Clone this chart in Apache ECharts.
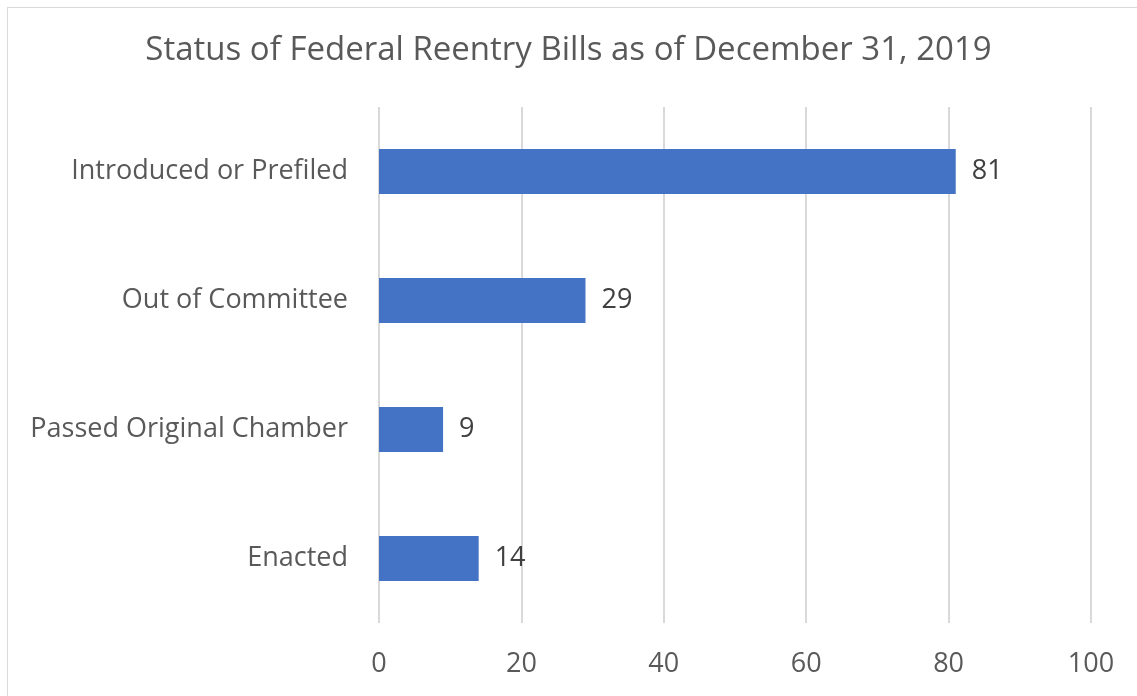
<!DOCTYPE html>
<html>
<head>
<meta charset="utf-8">
<script src="https://cdn.jsdelivr.net/npm/echarts@6/dist/echarts.min.js"></script>
<style>
  html, body { margin: 0; padding: 0; background: #fff; }
  #chart { width: 1137px; height: 696px; }
  .frame { position: absolute; left: 7px; top: 7px; width: 1140px; height: 700px; border: 1px solid #d9d9d9; pointer-events: none; }
</style>
</head>
<body>
<div id="chart"></div>
<div class="frame"></div>
<script>
const categories = ['Introduced or Prefiled', 'Out of Committee', 'Passed Original Chamber', 'Enacted']
const billCounts = [81, 29, 9, 14]
const xTicks = [0, 20, 40, 60, 80, 100]

const FONT = '"Open Sans", sans-serif'

const chart = echarts.init(document.getElementById('chart'))
chart.setOption({
  animation: false,
  title: {
    text: 'Status of Federal Reentry Bills as of December 31, 2019',
    left: 'center', top: 29,
    textStyle: { fontFamily: FONT, fontSize: 33, fontWeight: 'normal', color: '#595959' },
  },
  grid: { left: 379, right: 46, top: 107, bottom: 73, containLabel: false },
  xAxis: {
    type: 'value', min: xTicks[0], max: xTicks[xTicks.length - 1], interval: 20,
    axisLine: { show: false }, axisTick: { show: false },
    splitLine: { lineStyle: { color: '#d9d9d9', width: 2 } },
    axisLabel: { margin: 28, fontFamily: FONT, fontSize: 27, color: '#595959' },
  },
  yAxis: {
    type: 'category', data: categories, inverse: true,
    axisLine: { show: false }, axisTick: { show: false },
    axisLabel: { margin: 31, fontFamily: FONT, fontSize: 27, color: '#595959' },
  },
  series: [{
    type: 'bar',
    data: billCounts,
    barCategoryGap: '65%',
    itemStyle: { color: '#4472c4' },
    label: {
      show: true, position: 'right', distance: 16,
      fontFamily: FONT, fontSize: 27, color: '#404040',
    },
  }],
})
</script>
</body>
</html>
